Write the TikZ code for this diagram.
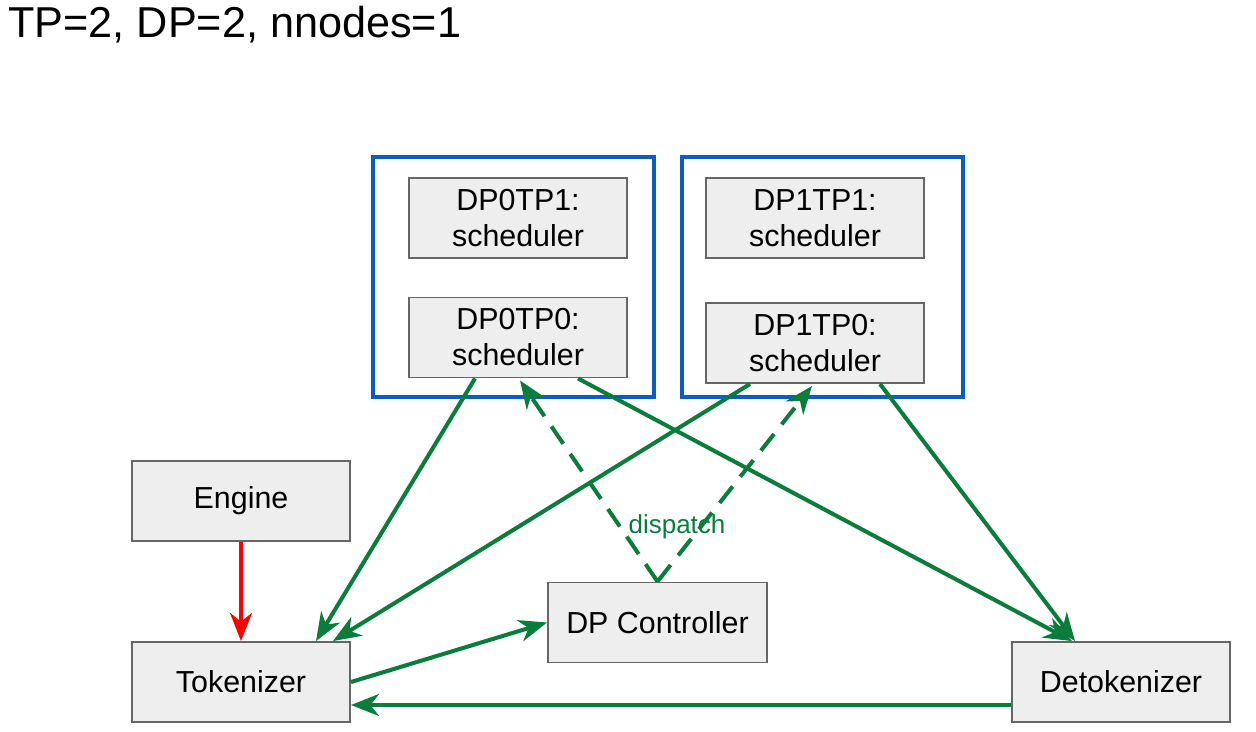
\documentclass[tikz,border=0pt]{standalone}
\usepackage{fontspec}
\setmainfont{Liberation Sans}
\usetikzlibrary{arrows.meta,calc,positioning}

\definecolor{flowgreen}{RGB}{10,125,60}
\definecolor{groupblue}{RGB}{12,92,200}
\definecolor{boxfill}{RGB}{238,238,238}
\definecolor{boxline}{RGB}{102,102,102}

\begin{document}
\begin{tikzpicture}[
    x=0.02cm, y=-0.02cm,
    box/.style={rectangle, draw=boxline, fill=boxfill, line width=1.1pt, align=center,
        minimum width=4.36cm, minimum height=1.6cm, inner sep=0pt,
        font=\fontsize{17.3}{20.5}\selectfont},
    group/.style={rectangle, draw=groupblue, line width=2.3pt, minimum width=5.62cm, minimum height=4.8cm},
    arrow/.style={-{Stealth[length=16pt, width=12.5pt, inset=5pt]}, line width=2.3pt, draw=flowgreen},
    dasharrow/.style={arrow, dash pattern=on 12pt off 7pt}
]
\useasboundingbox (0,0) rectangle (1256,731);

% Titel
\node[anchor=base west, inner sep=0pt, font=\fontsize{24.6}{28}\selectfont] (title) at (8,37) {TP=2, DP=2, nnodes=1};

% DP-Gruppen
\node[group] (dp0) at (513.5,277) {};
\node[group] (dp1) at (822.5,277) {};

% Scheduler
\node[box] (dp0tp1) at (518,218) {DP0TP1:\\scheduler};
\node[box] (dp0tp0) at (518,337.5) {DP0TP0:\\scheduler};
\node[box] (dp1tp1) at (815,218) {DP1TP1:\\scheduler};
\node[box] (dp1tp0) at (815,343) {DP1TP0:\\scheduler};

% Prozesse
\node[box] (engine) at (241,501) {Engine};
\node[box] (tokenizer) at (241,682) {Tokenizer};
\node[box, minimum width=4.38cm] (controller) at (657.5,622.5) {DP Controller};
\node[box] (detokenizer) at (1121,682) {Detokenizer};

% Verbindungen
\draw[arrow, draw=red] (engine) -- (tokenizer);
\draw[arrow] ($(dp0tp0.south)+(-43,0)$) -- ($(tokenizer.north)+(75,0)$);
\draw[arrow] ($(dp1tp0.south)+(-65,0)$) -- ($(tokenizer.north)+(92,0)$);
\draw[arrow] ($(dp0tp0.south)+(60,0)$) -- ($(detokenizer.north)+(-49,0)$);
\draw[arrow] ($(dp1tp0.south)+(65,0)$) -- ($(detokenizer.north)+(-46,0)$);
\draw[dasharrow] (controller.north) -- ($(dp0tp0.south)+(2,2)$);
\draw[dasharrow] (controller.north) -- ($(dp1tp0.south)+(-3,2)$);
\draw[arrow] (tokenizer.east) -- (controller.west);
\draw[arrow] ($(detokenizer.west)+(0,23)$) -- ($(tokenizer.east)+(0,23)$);

% Beschriftung
\node[text=flowgreen, font=\fontsize{14.8}{17}\selectfont, inner sep=0pt] (dispatchlabel) at (677,527) {dispatch};

\end{tikzpicture}
\end{document}
